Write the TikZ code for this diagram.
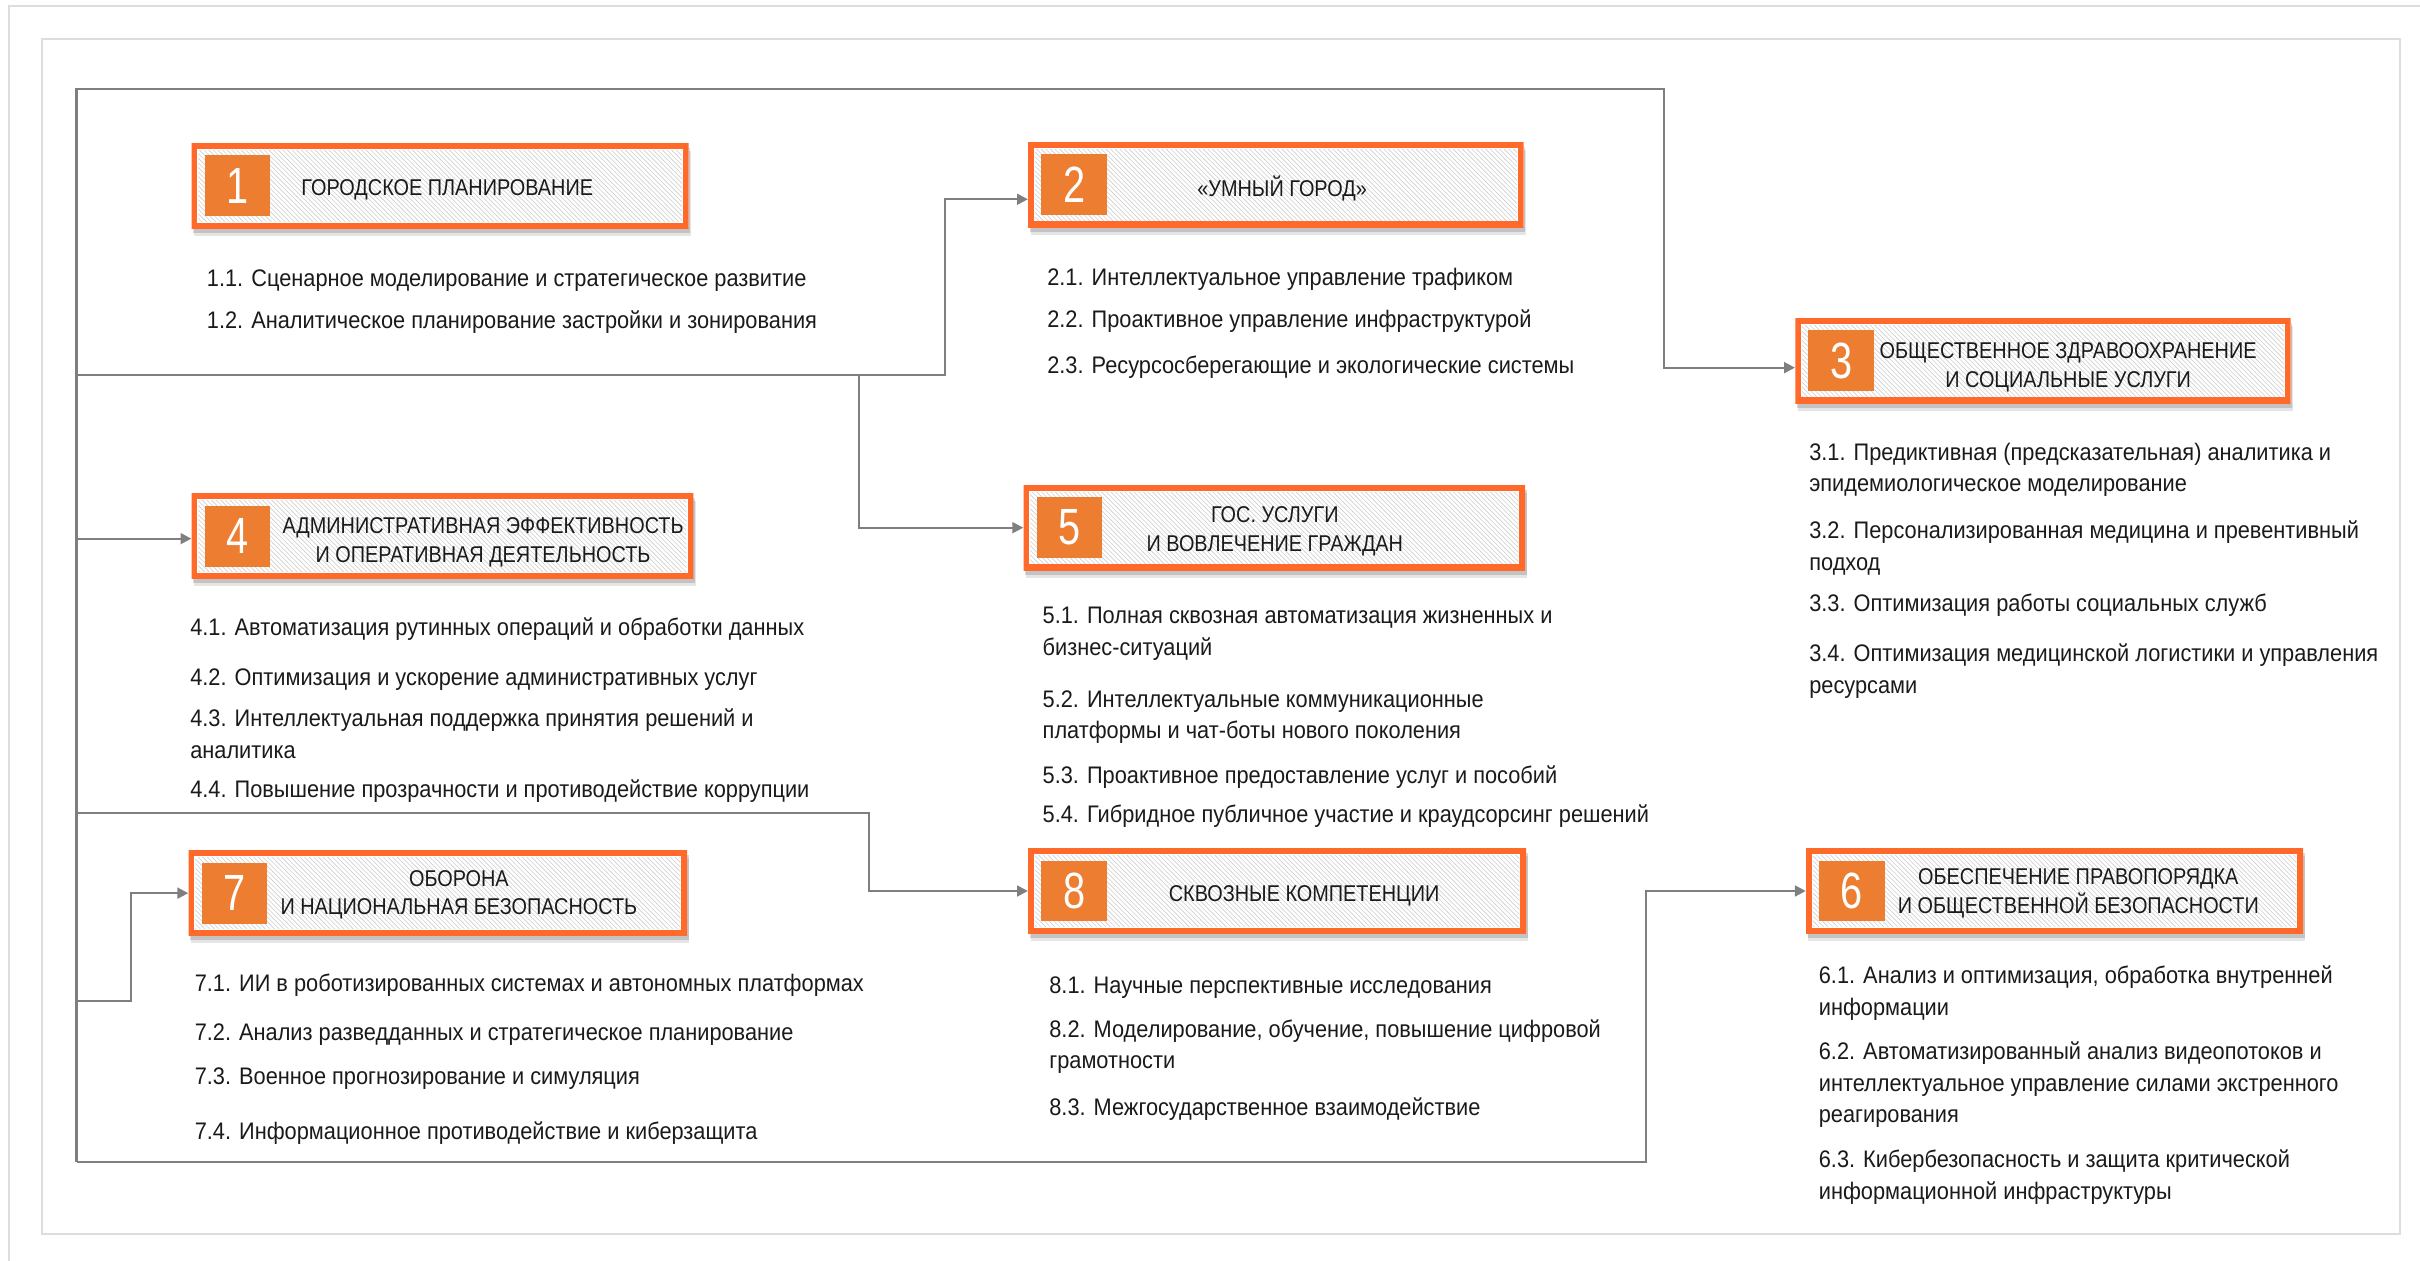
\documentclass[tikz,border=0pt]{standalone}
\usepackage{fontspec}
\setmainfont{Liberation Sans}[FakeStretch=0.91]
\newfontfamily\headfam{Liberation Sans}[FakeStretch=0.87]
\newfontfamily\numfont{Liberation Sans}[FakeStretch=0.78]
\usetikzlibrary{positioning,arrows.meta,patterns,shadows}
\definecolor{boxorange}{HTML}{FF6A2A}
\definecolor{numorange}{HTML}{ED7D31}
\definecolor{linkgray}{HTML}{7F7F7F}
\definecolor{framegray}{HTML}{DDDDDD}
\definecolor{hatchgray}{HTML}{D0D0D0}
\definecolor{textc}{HTML}{1A1A1A}
\newcommand\itemfont{\fontsize{15.5}{20.4}\selectfont}
\newcommand\headfont{\headfam\fontsize{14.8}{18.6}\selectfont}
\newcommand\istrut{\rule{0pt}{16pt}}
\newcommand\hstrut{\rule{0pt}{15pt}}
\begin{document}
\begin{tikzpicture}[x=1pt,y=-1pt,
    frame/.style={framegray,line width=1.4pt},
    link/.style={linkgray,line width=1.4pt,-{Triangle[length=7pt,width=7pt]}},
    catbox/.style={anchor=north west,inner sep=0pt,minimum height=55pt,fill=white,
      general shadow={shadow xshift=1.5pt,shadow yshift=-5pt,opacity=.10,fill=black},
      general shadow={shadow xshift=1pt,shadow yshift=-3pt,opacity=.15,fill=black},
      path picture={
        \fill[pattern=north west lines,pattern color=hatchgray]
          ([shift={(4.4,4.4)}]path picture bounding box.north west) rectangle
          ([shift={(-4.4,-4.4)}]path picture bounding box.south east);
        \draw[boxorange,line width=7.4pt] (path picture bounding box.north west)
          rectangle (path picture bounding box.south east);}},
    numsq/.style={fill=numorange,minimum width=42.5pt,minimum height=39.5pt,inner sep=0pt,
      text=white,font=\numfont\fontsize{33}{33}\selectfont},
    head/.style={anchor=north,inner sep=0pt,align=center,font=\headfont,text=textc,yshift=15pt},
    item/.style={anchor=north west,inner sep=0pt,align=left,font=\itemfont,text=textc,yshift=16pt}]
\useasboundingbox (0,0) rectangle (1568,817);
% page frames
\draw[frame] (5.8,817) -- (5.8,3.9) -- (1568,3.9);
\draw[frame] (27.3,25.3) rectangle (1555,799.3);
% category boxes
\foreach \n/\x/\y/\w in {1/124/92.8/322,2/666/92/321,3/1163/206/321,4/124/319.6/325,
                         5/663/314.2/325,6/1170/549.6/322,7/122/551/323,8/666/549.6/322.6}
  \node[catbox,minimum width=\w pt] (b\n) at (\x,\y) {};
\foreach \n in {1,...,8}
  \node[numsq,right=8.5pt of b\n.west] (n\n) {\n};
% box titles
\node[head] (h1) at (289.8,126.3) {\hstrut ГОРОДСКОЕ ПЛАНИРОВАНИЕ};
\node[head] (h2) at (830.7,127.4) {\hstrut «УМНЫЙ ГОРОД»};
\node[head] (h3) at (1340,232.2) {\hstrut ОБЩЕСТВЕННОЕ ЗДРАВООХРАНЕНИЕ\\И СОЦИАЛЬНЫЕ УСЛУГИ};
\node[head] (h4) at (313,345.5) {\hstrut АДМИНИСТРАТИВНАЯ ЭФФЕКТИВНОСТЬ\\И ОПЕРАТИВНАЯ ДЕЯТЕЛЬНОСТЬ};
\node[head] (h5) at (826,338.6) {\hstrut ГОС. УСЛУГИ\\И ВОВЛЕЧЕНИЕ ГРАЖДАН};
\node[head] (h6) at (1346.6,573) {\hstrut ОБЕСПЕЧЕНИЕ ПРАВОПОРЯДКА\\И ОБЩЕСТВЕННОЙ БЕЗОПАСНОСТИ};
\node[head] (h7) at (297.3,574) {\hstrut ОБОРОНА\\И НАЦИОНАЛЬНАЯ БЕЗОПАСНОСТЬ};
\node[head] (h8) at (845,584.2) {\hstrut СКВОЗНЫЕ КОМПЕТЕНЦИИ};
% items
\foreach \n/\y/\t in {1/185.3/{1.1. Сценарное моделирование и стратегическое развитие},
                      2/212.7/{1.2. Аналитическое планирование застройки и зонирования}}
  \node[item] (i1\n) at (133.9,\y) {\istrut\t};
\foreach \n/\y/\t in {1/184.7/{2.1. Интеллектуальное управление трафиком},
                      2/211.7/{2.2. Проактивное управление инфраструктурой},
                      3/241.5/{2.3. Ресурсосберегающие и экологические системы}}
  \node[item] (i2\n) at (678.4,\y) {\istrut\t};
\foreach \n/\y/\t in {1/298/{3.1. Предиктивная (предсказательная) аналитика и\\эпидемиологическое моделирование},
                      2/348.8/{3.2. Персонализированная медицина и превентивный\\подход},
                      3/396.3/{3.3. Оптимизация работы социальных служб},
                      4/428.7/{3.4. Оптимизация медицинской логистики и управления\\ресурсами}}
  \node[item] (i3\n) at (1172.1,\y) {\istrut\t};
\foreach \n/\y/\t in {1/411.4/{4.1. Автоматизация рутинных операций и обработки данных},
                      2/443.8/{4.2. Оптимизация и ускорение административных услуг},
                      3/470.8/{4.3. Интеллектуальная поддержка принятия решений и\\аналитика},
                      4/516.2/{4.4. Повышение прозрачности и противодействие коррупции}}
  \node[item] (i4\n) at (123.1,\y) {\istrut\t};
\foreach \n/\y/\t in {1/403.9/{5.1. Полная сквозная автоматизация жизненных и\\бизнес-ситуаций},
                      2/457.9/{5.2. Интеллектуальные коммуникационные\\платформы и чат-боты нового поколения},
                      3/507.5/{5.3. Проактивное предоставление услуг и пособий},
                      4/532.4/{5.4. Гибридное публичное участие и краудсорсинг решений}}
  \node[item] (i5\n) at (675.4,\y) {\istrut\t};
\foreach \n/\y/\t in {1/637.1/{6.1. Анализ и оптимизация, обработка внутренней\\информации},
                      2/686.4/{6.2. Автоматизированный анализ видеопотоков и\\интеллектуальное управление силами экстренного\\реагирования},
                      3/756.3/{6.3. Кибербезопасность и защита критической\\информационной инфраструктуры}}
  \node[item] (i6\n) at (1178.3,\y) {\istrut\t};
\foreach \n/\y/\t in {1/641.9/{7.1. ИИ в роботизированных системах и автономных платформах},
                      2/673.8/{7.2. Анализ разведданных и стратегическое планирование},
                      3/702.3/{7.3. Военное прогнозирование и симуляция},
                      4/738.2/{7.4. Информационное противодействие и киберзащита}}
  \node[item] (i7\n) at (126,\y) {\istrut\t};
\foreach \n/\y/\t in {1/643.6/{8.1. Научные перспективные исследования},
                      2/671.7/{8.2. Моделирование, обучение, повышение цифровой\\грамотности},
                      3/722.4/{8.3. Межгосударственное взаимодействие}}
  \node[item] (i8\n) at (679.7,\y) {\istrut\t};
% connectors
\coordinate (ftl) at (49.6,57.7);
\coordinate (fbl) at (49.6,752.7);
\coordinate (ftr) at (1078.1,57.7);
\coordinate (fbr) at (1066.5,752.7);
\coordinate (j2) at (49.6,243);
\coordinate (k2) at (612.4,243);
\coordinate (k5) at (556.6,243);
\coordinate (j4) at (49.6,349);
\coordinate (j8) at (49.6,527);
\coordinate (k8) at (563,527);
\coordinate (j7) at (49.6,648.6);
\coordinate (k7) at (85,648.6);
\draw[link] (fbl) -- (ftl) -- (ftr) |- ([yshift=-4.5pt]b3.west);
\draw[link] (fbl) -- (fbr) |- (b6.west);
\draw[link] (j2) -- (k2) |- ([yshift=-9.4pt]b2.west);
\draw[link] (k5) |- (b5.west);
\draw[link] (j4) -- (j4 -| b4.west);
\draw[link] (j8) -- (k8) |- (b8.west);
\draw[link] (j7) -- (k7) |- (b7.west);
\end{tikzpicture}
\end{document}
